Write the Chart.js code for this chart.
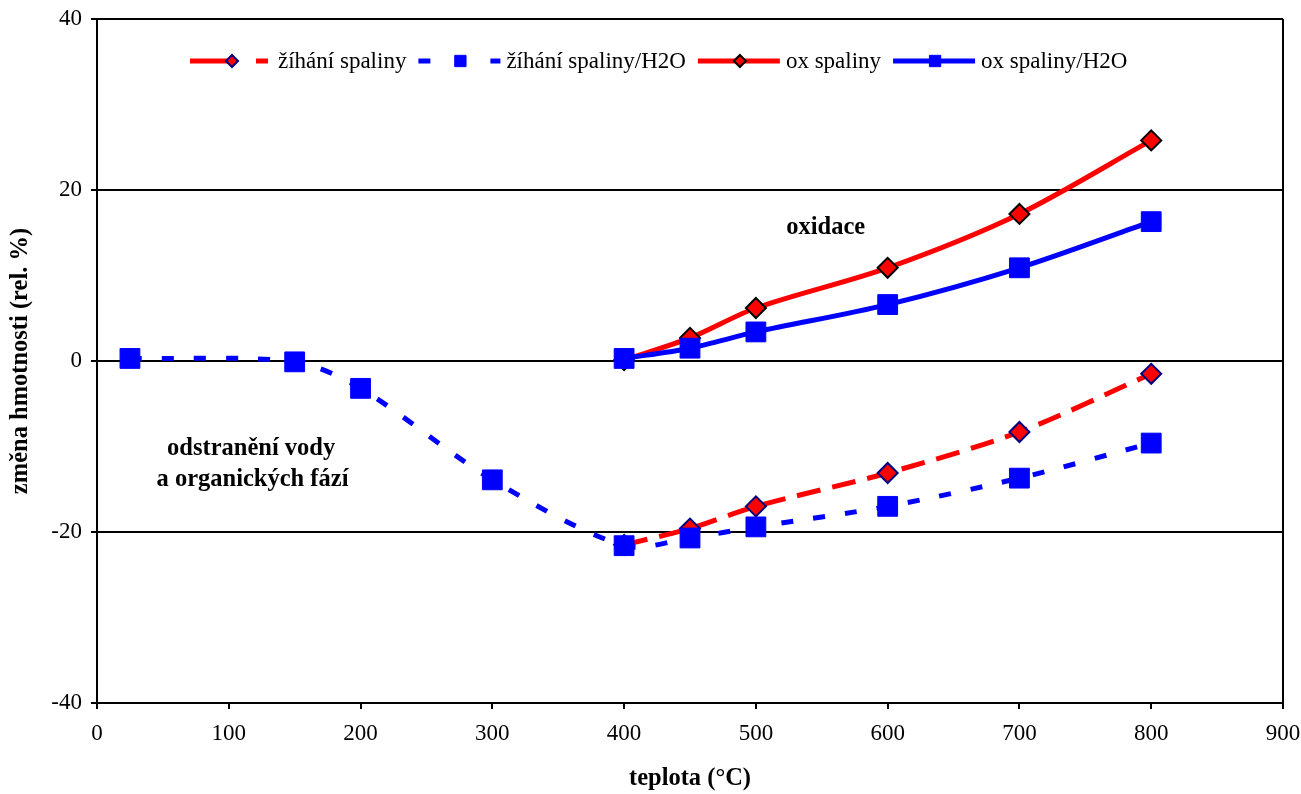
<!DOCTYPE html>
<html lang="cs">
<head>
  <meta charset="UTF-8">
  <title>Změna hmotnosti v závislosti na teplotě</title>
  <script src="https://cdn.jsdelivr.net/npm/chart.js@4.4.1/dist/chart.umd.min.js"></script>
  <style>
    body { margin: 0; background: #fff; }
    #chart-container { width: 1301px; height: 794px; }
  </style>
</head>
<body>

  <div id="chart-container">
    <canvas id="myChart"></canvas>
  </div>

  <script>
    // données
    const teplotaOx = [400, 450, 500, 600, 700, 800];
    const teplotaH2O = [25, 150, 200, 300, 400, 450, 500, 600, 700, 800];
    const zihaniSpaliny = [-21.5, -19.6, -17.0, -13.1, -8.3, -1.5];
    const zihaniSpalinyH2O = [0.3, -0.1, -3.2, -13.9, -21.6, -20.7, -19.4, -17.0, -13.7, -9.6];
    const oxSpaliny = [0.1, 2.7, 6.2, 10.9, 17.2, 25.8];
    const oxSpalinyH2O = [0.3, 1.5, 3.4, 6.6, 10.9, 16.3];
    const yTicks = [-40, -20, 0, 20, 40];
    const xTicks = [0, 100, 200, 300, 400, 500, 600, 700, 800, 900];

    const serif = "'Liberation Serif', 'Times New Roman', serif";
    const pts = (xs, ys) => xs.map((x, i) => ({ x: x, y: ys[i] }));

    // légende façon Excel : trait + marqueur au centre
    const legendPlugin = {
      id: 'excelLegend',
      afterDraw(chart) {
        const ctx = chart.ctx;
        const y = 61;
        let x = 190;
        ctx.save();
        ctx.font = '23px ' + serif;
        ctx.textBaseline = 'middle';
        chart.data.datasets.forEach(ds => {
          ctx.strokeStyle = ds.borderColor;
          ctx.lineWidth = 5;
          ctx.setLineDash(ds.legendDash || []);
          ctx.beginPath();
          ctx.moveTo(x, y);
          ctx.lineTo(x + 82, y);
          ctx.stroke();
          ctx.setLineDash([]);
          ctx.fillStyle = ds.pointBackgroundColor;
          ctx.strokeStyle = ds.pointBorderColor;
          ctx.lineWidth = ds.pointBorderWidth;
          Chart.helpers.drawPoint(ctx, {
            pointStyle: ds.pointStyle,
            radius: ds.pointStyle === 'rect' ? 8 : 6,
            borderWidth: ds.pointBorderWidth,
            rotation: 0
          }, x + 42, y);
          ctx.fillStyle = '#000';
          ctx.fillText(ds.label, x + 88, y + 1);
          x += 88 + ctx.measureText(ds.label).width + 12;
        });
        ctx.restore();
      }
    };

    // textes dans la zone du graphique
    const notesPlugin = {
      id: 'notes',
      afterDatasetsDraw(chart) {
        const { ctx, scales: { x, y } } = chart;
        ctx.save();
        ctx.font = 'bold 24.5px ' + serif;
        ctx.fillStyle = '#000';
        ctx.textAlign = 'center';
        ctx.textBaseline = 'middle';
        ctx.fillText('oxidace', x.getPixelForValue(553), y.getPixelForValue(15.6));
        ctx.fillText('odstranění vody', x.getPixelForValue(117), y.getPixelForValue(-10.3));
        ctx.fillText('a organických fází', x.getPixelForValue(118), y.getPixelForValue(-13.9));
        ctx.restore();
      }
    };

    const ctx = document.getElementById('myChart').getContext('2d');

    new Chart(ctx, {
      type: 'line',
      data: {
        datasets: [{
          label: 'žíhání spaliny',
          data: pts(teplotaOx, zihaniSpaliny),
          borderColor: '#ff0000',
          borderWidth: 5,
          borderDash: [24, 12],
          legendDash: [38, 28, 12, 100],
          pointStyle: 'rectRot',
          pointRadius: 10,
          pointBackgroundColor: '#ff0000',
          pointBorderColor: '#000080',
          pointBorderWidth: 2,
          order: 1
        }, {
          label: 'žíhání spaliny/H2O',
          data: pts(teplotaH2O, zihaniSpalinyH2O),
          borderColor: '#0000ff',
          borderWidth: 5,
          borderDash: [12, 20],
          legendDash: [12, 60, 12, 100],
          pointStyle: 'rect',
          pointRadius: 14,
          pointBackgroundColor: '#0000ff',
          pointBorderColor: '#0000ff',
          pointBorderWidth: 1,
          order: 0
        }, {
          label: 'ox spaliny',
          data: pts(teplotaOx, oxSpaliny),
          borderColor: '#ff0000',
          borderWidth: 5,
          pointStyle: 'rectRot',
          pointRadius: 10,
          pointBackgroundColor: '#ff0000',
          pointBorderColor: '#000000',
          pointBorderWidth: 2,
          order: 1
        }, {
          label: 'ox spaliny/H2O',
          data: pts(teplotaOx, oxSpalinyH2O),
          borderColor: '#0000ff',
          borderWidth: 5,
          pointStyle: 'rect',
          pointRadius: 14,
          pointBackgroundColor: '#0000ff',
          pointBorderColor: '#0000ff',
          pointBorderWidth: 1,
          order: 0
        }]
      },
      options: {
        responsive: true,
        maintainAspectRatio: false,
        animation: false,
        events: [],
        tension: 0.3,
        layout: { padding: { top: 19, right: 18, left: 0, bottom: 0 } },
        plugins: {
          legend: { display: false },
          tooltip: { enabled: false }
        },
        scales: {
          x: {
            type: 'linear',
            min: 0,
            max: 900,
            afterBuildTicks: s => { s.ticks = xTicks.map(v => ({ value: v })); },
            afterFit: s => { s.height = 91; s.paddingLeft = 0; s.paddingRight = 0; },
            ticks: { color: '#000', font: { family: serif, size: 23 }, padding: 11, maxRotation: 0 },
            grid: {
              color: c => c.tick && c.tick.value === 900 ? '#000' : 'rgba(0,0,0,0)',
              lineWidth: 2,
              tickColor: '#000',
              tickLength: 6,
              tickWidth: 2
            },
            border: { color: '#000', width: 2 },
            title: {
              display: true,
              text: 'teplota (°C)',
              color: '#000',
              font: { family: serif, size: 24.5, weight: 'bold' },
              padding: { top: 0, bottom: 1 }
            }
          },
          y: {
            min: -40,
            max: 40,
            afterBuildTicks: s => { s.ticks = yTicks.map(v => ({ value: v })); },
            afterFit: s => { s.width = 97; s.paddingTop = 0; s.paddingBottom = 0; },
            ticks: { color: '#000', font: { family: serif, size: 23 }, padding: 9 },
            grid: {
              color: '#000',
              lineWidth: 2,
              tickColor: '#000',
              tickLength: 6,
              tickWidth: 2
            },
            border: { color: '#000', width: 2 },
            title: {
              display: true,
              text: 'změna hmotnosti (rel. %)',
              color: '#000',
              font: { family: serif, size: 24.5, weight: 'bold' },
              padding: { top: 6, bottom: 0 }
            }
          }
        }
      },
      plugins: [legendPlugin, notesPlugin]
    });
  </script>

</body>
</html>
